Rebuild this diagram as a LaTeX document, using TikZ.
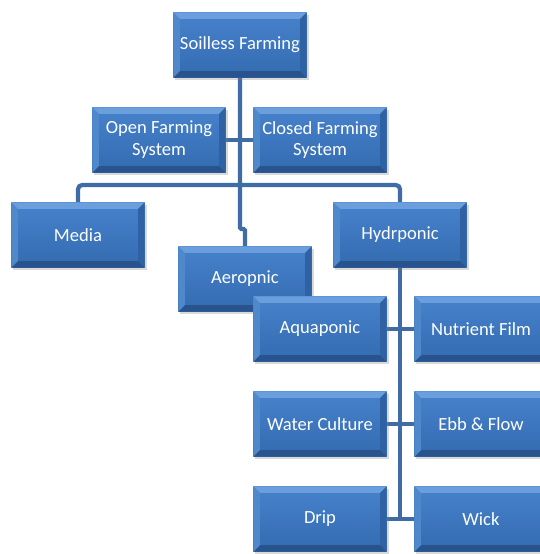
\documentclass[tikz,border=0pt]{standalone}
\usepackage{fontspec}
\setmainfont{Carlito}
\usetikzlibrary{shadows}
\definecolor{facetop}{HTML}{4682CC}
\definecolor{facebot}{HTML}{346BB0}
\definecolor{bevtop}{HTML}{6A9EDD}
\definecolor{bevleft}{HTML}{5088CC}
\definecolor{bevright}{HTML}{2F62A2}
\definecolor{bevbot}{HTML}{28538C}
\definecolor{wire}{HTML}{3F6CA4}
\begin{document}
\begin{tikzpicture}[x=0.025cm,y=-0.025cm,
    box/.style={top color=facetop, bottom color=facebot, minimum width=3.325cm, minimum height=1.625cm,
        text=white, font=\fontsize{13.2}{15.5}\selectfont, align=center, inner sep=2pt,
        drop shadow={opacity=0.3, shadow xshift=0.05cm, shadow yshift=-0.07cm},
        path picture={
            \def\bv{0.16cm}
            \fill[bevtop] (path picture bounding box.north west) -- (path picture bounding box.north east)
                -- ([xshift=-\bv,yshift=-\bv]path picture bounding box.north east)
                -- ([xshift=\bv,yshift=-\bv]path picture bounding box.north west) -- cycle;
            \fill[bevbot] (path picture bounding box.south west) -- (path picture bounding box.south east)
                -- ([xshift=-\bv,yshift=\bv]path picture bounding box.south east)
                -- ([xshift=\bv,yshift=\bv]path picture bounding box.south west) -- cycle;
            \fill[bevleft] (path picture bounding box.north west) -- (path picture bounding box.south west)
                -- ([xshift=\bv,yshift=\bv]path picture bounding box.south west)
                -- ([xshift=\bv,yshift=-\bv]path picture bounding box.north west) -- cycle;
            \fill[bevright] (path picture bounding box.north east) -- (path picture bounding box.south east)
                -- ([xshift=-\bv,yshift=\bv]path picture bounding box.south east)
                -- ([xshift=-\bv,yshift=-\bv]path picture bounding box.north east) -- cycle;
        }},
    link/.style={draw=wire, line width=3pt, rounded corners=3pt}]
    \useasboundingbox (0,0) rectangle (540,554);

    % connectors first, boxes on top
    \coordinate (bus) at (240,185);
    \coordinate (jog) at (240,229);
    \coordinate (hbot) at (400,519);
    \draw[link, rounded corners=1pt] (240,78) -- (jog) -| (245,247);
    \draw[link] (159,140) -- (320,140);
    \draw[link] (78,202) |- (bus) -| (400,202);
    \draw[link] (400,268) -- (hbot);
    \draw[link] (320,329) -- (481,329);
    \draw[link] (320,424) -- (481,424);
    \draw[link] (320,519) -- (hbot) -- (481,519);

    \node[box] (soil) at (240,45) {Soilless Farming};
    \node[box] (open) at (159,140) {Open Farming\\System};
    \node[box] (closed) at (320,140) {Closed Farming\\System};
    \node[box] (media) at (78,235) {Media};
    \node[box] (hydro) at (400,235) {Hydrponic};
    \node[box] (aero) at (245,279) {Aeropnic};
    \node[box] (aqua) at (320,329) {Aquaponic};
    \node[box] (nft) at (481,329) {Nutrient Film};
    \node[box] (water) at (320,424) {Water Culture};
    \node[box] (ebb) at (481,424) {Ebb \& Flow};
    \node[box] (drip) at (320,519) {Drip};
    \node[box] (wick) at (481,519) {Wick};
\end{tikzpicture}
\end{document}
